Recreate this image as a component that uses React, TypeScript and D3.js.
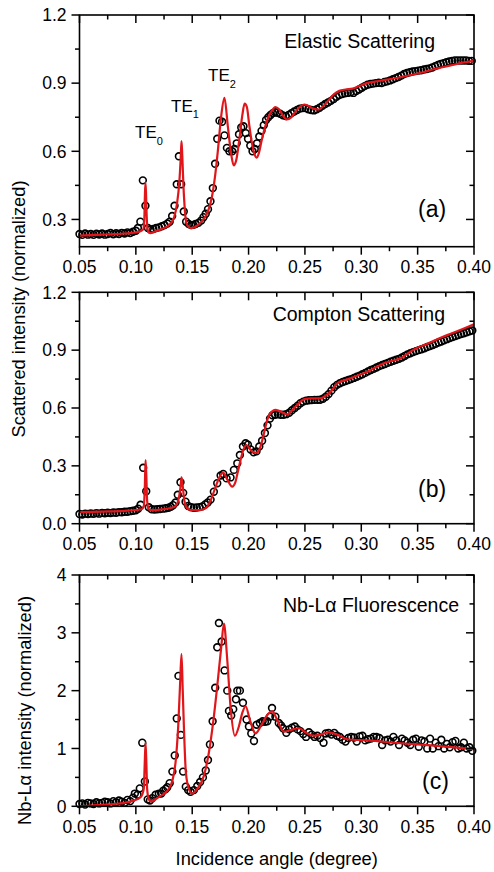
import React from 'react';
import * as d3 from 'd3';

// ---------- data ----------
const X_TICKS = [0.05, 0.10, 0.15, 0.20, 0.25, 0.30, 0.35, 0.40];
const X_MINOR = [0.075, 0.125, 0.175, 0.225, 0.275, 0.325, 0.375];

const A_Y_TICKS = [0.3, 0.6, 0.9, 1.2];
const A_Y_MINOR = [0.45, 0.75, 1.05];
const B_Y_TICKS = [0.0, 0.3, 0.6, 0.9, 1.2];
const B_Y_MINOR = [0.15, 0.45, 0.75, 1.05];
const C_Y_TICKS = [0, 1, 2, 3, 4];
const C_Y_MINOR = [0.5, 1.5, 2.5, 3.5];

// (a) Elastic scattering: measured points
const A_PTS: number[][] = [
  [0.05,.236],[0.0525,.232],[0.055,.238],[0.0575,.233],[0.06,.236],[0.0625,.232],[0.065,.237],[0.0675,.234],
  [0.07,.238],[0.0725,.233],[0.075,.236],[0.0775,.24],[0.08,.235],[0.0825,.239],[0.085,.236],[0.0875,.241],
  [0.09,.238],[0.0925,.243],[0.095,.24],[0.0975,.246],[0.1,.25],[0.1018,.262],[0.104,.29],[0.1062,.472],
  [0.1085,.36],[0.1107,.262],[0.113,.256],[0.1155,.258],[0.118,.262],[0.1205,.265],[0.123,.27],[0.1255,.275],
  [0.128,.282],[0.13,.29],[0.1322,.315],[0.1343,.36],[0.1363,.455],[0.1382,.578],[0.1402,.455],[0.1425,.335],
  [0.1446,.29],[0.1469,.28],[0.149,.275],[0.151,.276],[0.153,.28],[0.1555,.285],[0.158,.295],[0.16,.31],
  [0.162,.325],[0.164,.345],[0.1662,.38],[0.1683,.438],[0.1703,.545],[0.1722,.655],[0.1742,.735],[0.1765,.73],
  [0.1786,.67],[0.1808,.615],[0.183,.6],[0.1855,.6],[0.1875,.61],[0.1895,.635],[0.1915,.675],[0.1935,.705],
  [0.1955,.71],[0.1975,.68],[0.1995,.655],[0.2015,.625],[0.2035,.6],[0.2055,.61],[0.2075,.635],[0.2095,.665],
  [0.2115,.69],[0.2135,.715],[0.2155,.738],[0.2175,.75],[0.2195,.76],[0.2215,.768],[0.2235,.772],[0.2255,.77],
  [0.228,.765],[0.2305,.758],[0.233,.755],[0.2355,.76],[0.238,.768],[0.2405,.775],[0.243,.782],[0.2455,.788],
  [0.248,.79],[0.2505,.79],[0.253,.785],[0.2555,.782],[0.258,.78],[0.2605,.785],[0.263,.792],[0.2655,.8],
  [0.268,.808],[0.2705,.815],[0.273,.822],[0.2755,.83],[0.278,.84],[0.2805,.848],[0.283,.852],[0.2855,.855],
  [0.288,.857],[0.2905,.86],[0.293,.857],[0.2955,.865],[0.298,.872],[0.3005,.88],[0.303,.887],[0.3055,.893],
  [0.308,.896],[0.3105,.898],[0.313,.9],[0.3155,.902],[0.318,.9],[0.3205,.905],[0.323,.908],[0.3255,.912],
  [0.328,.917],[0.3305,.922],[0.333,.927],[0.3355,.933],[0.338,.94],[0.3405,.945],[0.343,.948],[0.3455,.951],
  [0.348,.953],[0.3505,.955],[0.353,.957],[0.3555,.96],[0.358,.962],[0.3605,.965],[0.363,.969],[0.3655,.975],
  [0.368,.98],[0.3705,.985],[0.373,.988],[0.3755,.992],[0.378,.995],[0.3805,.998],[0.383,1.0],[0.3855,1.0],
  [0.388,1.0],[0.3905,1.0],[0.393,1.0],[0.3955,.998],[0.398,.998],
];
// (a) simulated curve
const A_FIT: number[][] = [
  [0.05,.229],[0.06,.231],[0.07,.233],[0.08,.235],[0.09,.238],[0.1,.243],[0.104,.248],[0.1065,.256],
  [0.1075,.3],[0.108,.4],[0.1085,.462],[0.109,.42],[0.1095,.33],[0.1103,.26],[0.1115,.243],[0.113,.24],
  [0.116,.245],[0.12,.252],[0.125,.262],[0.13,.278],[0.134,.31],[0.1365,.37],[0.1385,.46],[0.1398,.57],
  [0.1405,.645],[0.1412,.58],[0.1422,.45],[0.1435,.34],[0.145,.28],[0.147,.266],[0.149,.262],[0.152,.265],
  [0.156,.28],[0.16,.3],[0.164,.335],[0.1675,.4],[0.1705,.5],[0.1727,.6],[0.1756,.75],[0.1786,.835],
  [0.1816,.71],[0.1845,.59],[0.1868,.538],[0.189,.56],[0.192,.66],[0.1945,.76],[0.1965,.81],[0.1985,.795],
  [0.2005,.72],[0.2025,.65],[0.2048,.595],[0.207,.572],[0.209,.59],[0.2115,.645],[0.2145,.705],[0.2175,.75],
  [0.2205,.778],[0.2238,.795],[0.227,.785],[0.2305,.757],[0.234,.74],[0.238,.75],[0.2425,.78],[0.2465,.8],
  [0.2495,.806],[0.253,.8],[0.2575,.788],[0.2622,.784],[0.2665,.8],[0.271,.825],[0.2755,.85],[0.2806,.866],
  [0.286,.872],[0.2924,.876],[0.298,.887],[0.3042,.899],[0.312,.907],[0.32,.913],[0.3338,.925],[0.345,.937],
  [0.355,.948],[0.3633,.96],[0.372,.97],[0.381,.98],[0.39,.99],[0.4,.998],
];

// (b) Compton scattering: measured points
const B_PTS: number[][] = [
  [0.05,.05],[0.0525,.048],[0.055,.052],[0.0575,.05],[0.06,.053],[0.0625,.051],[0.065,.055],[0.0675,.052],
  [0.07,.056],[0.0725,.054],[0.075,.057],[0.0775,.055],[0.08,.058],[0.0825,.057],[0.085,.06],[0.0875,.059],
  [0.09,.062],[0.0925,.062],[0.095,.065],[0.0975,.067],[0.1,.07],[0.102,.078],[0.1042,.098],[0.1065,.29],
  [0.1092,.168],[0.1115,.085],[0.114,.075],[0.1165,.074],[0.119,.075],[0.1215,.076],[0.124,.078],[0.1265,.08],
  [0.129,.083],[0.131,.088],[0.133,.096],[0.1352,.11],[0.1372,.15],[0.1396,.215],[0.142,.16],[0.1441,.114],
  [0.1465,.092],[0.149,.085],[0.1515,.083],[0.154,.084],[0.1565,.086],[0.159,.09],[0.1615,.1],[0.1638,.11],
  [0.1663,.125],[0.1692,.166],[0.1722,.21],[0.1752,.25],[0.1775,.258],[0.1805,.235],[0.184,.24],[0.187,.279],
  [0.19,.313],[0.1923,.356],[0.195,.4],[0.1974,.417],[0.1994,.41],[0.2018,.385],[0.2045,.37],[0.207,.375],
  [0.2095,.4],[0.212,.43],[0.2145,.47],[0.2168,.51],[0.219,.545],[0.2212,.562],[0.2235,.565],[0.226,.567],
  [0.2285,.565],[0.231,.565],[0.2335,.568],[0.236,.575],[0.2385,.588],[0.241,.6],[0.2435,.612],[0.246,.625],
  [0.2485,.633],[0.251,.638],[0.2535,.64],[0.256,.641],[0.2585,.642],[0.261,.642],[0.2635,.643],[0.266,.648],
  [0.2685,.658],[0.271,.672],[0.2735,.69],[0.276,.708],[0.2785,.72],[0.281,.728],[0.2835,.735],[0.286,.74],
  [0.2885,.745],[0.291,.75],[0.2935,.756],[0.296,.762],[0.2985,.768],[0.301,.775],[0.3035,.782],[0.306,.79],
  [0.3085,.797],[0.311,.803],[0.3135,.81],[0.316,.817],[0.3185,.823],[0.321,.828],[0.3235,.834],[0.326,.84],
  [0.3285,.845],[0.331,.85],[0.3335,.855],[0.336,.862],[0.3385,.87],[0.341,.878],[0.3435,.884],[0.346,.89],
  [0.3485,.895],[0.351,.9],[0.3535,.905],[0.356,.91],[0.3585,.916],[0.361,.921],[0.3635,.927],[0.366,.933],
  [0.3685,.94],[0.371,.945],[0.3735,.951],[0.376,.957],[0.3785,.963],[0.381,.968],[0.3835,.973],[0.386,.978],
  [0.3885,.984],[0.391,.988],[0.3935,.993],[0.396,.998],[0.3985,1.002],
];
// (b) simulated curve
const B_FIT: number[][] = [
  [0.05,.06],[0.07,.063],[0.09,.067],[0.1,.071],[0.105,.075],[0.107,.09],[0.108,.2],[0.1086,.33],
  [0.1093,.25],[0.11,.12],[0.1115,.075],[0.113,.07],[0.12,.072],[0.13,.08],[0.135,.09],[0.138,.13],
  [0.1398,.2],[0.1405,.24],[0.1415,.2],[0.143,.12],[0.1455,.08],[0.1485,.071],[0.155,.07],[0.16,.075],
  [0.1633,.088],[0.167,.13],[0.1707,.19],[0.1745,.245],[0.1775,.265],[0.181,.23],[0.1855,.192],[0.188,.21],
  [0.1905,.27],[0.1929,.33],[0.1955,.385],[0.1982,.408],[0.2008,.39],[0.2033,.373],[0.2071,.368],[0.21,.39],
  [0.2122,.433],[0.2145,.49],[0.2166,.538],[0.219,.57],[0.2215,.585],[0.224,.59],[0.227,.585],[0.2314,.573],
  [0.2344,.566],[0.2375,.58],[0.2403,.599],[0.244,.62],[0.2477,.641],[0.2515,.648],[0.2551,.65],[0.26,.65],
  [0.264,.65],[0.268,.662],[0.2728,.684],[0.2787,.728],[0.284,.742],[0.2906,.754],[0.2975,.77],[0.3054,.788],
  [0.3125,.81],[0.3202,.832],[0.3275,.845],[0.335,.858],[0.342,.886],[0.3497,.912],[0.3575,.93],[0.3645,.949],
  [0.372,.968],[0.3793,.985],[0.39,1.01],[0.4,1.034],
];

// (c) Nb-La fluorescence: measured points
const C_PTS: number[][] = [
  [0.05,.04],[0.0525,.05],[0.055,.03],[0.0575,.06],[0.06,.05],[0.0625,.04],[0.065,.07],[0.0675,.05],
  [0.07,.06],[0.0725,.08],[0.075,.07],[0.0775,.05],[0.08,.09],[0.0825,.07],[0.085,.1],[0.0875,.08],
  [0.09,.06],[0.0925,.11],[0.095,.09],[0.0975,.15],[0.0991,.22],[0.1015,.2],[0.1035,.31],[0.1057,1.1],
  [0.108,.43],[0.1105,.12],[0.1125,.1],[0.1145,.14],[0.1175,.2],[0.1204,.22],[0.1225,.22],[0.1243,.27],
  [0.1265,.3],[0.1279,.33],[0.13,.4],[0.1324,.6],[0.1345,.88],[0.1363,1.52],[0.1378,2.255],[0.1399,1.235],
  [0.1419,.6],[0.1443,.34],[0.1464,.28],[0.1485,.25],[0.1515,.28],[0.1545,.35],[0.157,.42],[0.1595,.5],
  [0.162,.62],[0.164,.8],[0.1657,1.07],[0.1681,1.47],[0.1704,2.05],[0.1722,2.75],[0.1737,3.17],[0.1761,2.85],
  [0.1787,2.35],[0.1811,2.0],[0.1826,1.65],[0.1846,1.57],[0.1864,1.68],[0.1888,1.85],[0.19,2.0],[0.1923,2.0],
  [0.195,1.79],[0.1982,1.5],[0.2003,1.38],[0.2024,1.26],[0.2048,1.13],[0.2071,1.41],[0.21,1.44],[0.2125,1.47],
  [0.2145,1.46],[0.2166,1.47],[0.219,1.55],[0.2208,1.7],[0.2238,1.55],[0.2268,1.44],[0.2288,1.4],[0.2306,1.35],
  [0.2335,1.27],[0.236,1.33],[0.2385,1.36],[0.241,1.38],[0.2435,1.33],[0.246,1.3],[0.2485,1.25],[0.251,1.2],
  [0.2535,1.28],[0.256,1.24],[0.2585,1.2],[0.261,1.22],[0.2635,1.18],[0.2665,1.1],[0.2685,1.26],[0.271,1.27],
  [0.2735,1.24],[0.276,1.27],[0.2785,1.22],[0.281,1.2],[0.2835,1.15],[0.286,1.12],[0.2885,1.18],[0.291,1.2],
  [0.2935,1.19],[0.296,1.12],[0.2985,1.21],[0.301,1.22],[0.3035,1.14],[0.306,1.16],[0.3085,1.17],[0.311,1.2],
  [0.3135,1.2],[0.316,1.18],[0.3185,1.06],[0.321,1.14],[0.3235,1.15],[0.326,1.12],[0.3285,1.2],[0.331,1.14],
  [0.3335,1.06],[0.336,1.17],[0.3385,1.14],[0.341,1.1],[0.3435,1.06],[0.346,1.15],[0.3485,1.17],[0.351,1.03],
  [0.3535,1.14],[0.356,1.12],[0.3585,1.0],[0.361,1.17],[0.3635,1.0],[0.366,1.1],[0.3685,1.04],[0.371,1.15],
  [0.3735,1.0],[0.376,1.08],[0.3785,1.02],[0.381,1.11],[0.3835,1.13],[0.386,1.0],[0.3885,1.02],[0.391,1.1],
  [0.3935,1.0],[0.396,1.02],[0.3985,.96],
];
// (c) simulated curve
const C_FIT: number[][] = [
  [0.05,0],[0.06,.01],[0.07,.025],[0.08,.04],[0.09,.06],[0.098,.098],[0.1042,.156],[0.107,.3],
  [0.1078,.7],[0.1086,1.1],[0.1094,.7],[0.11,.3],[0.1115,.12],[0.1136,.08],[0.118,.13],[0.1219,.18],
  [0.1278,.265],[0.1323,.438],[0.1352,.755],[0.1376,1.39],[0.1392,2.1],[0.1405,2.63],[0.1416,2.0],[0.1426,1.39],
  [0.1444,.58],[0.1471,.3],[0.15,.22],[0.1545,.3],[0.1604,.53],[0.1648,.93],[0.1692,1.55],[0.1728,2.19],
  [0.1758,2.76],[0.1781,3.16],[0.1811,2.53],[0.184,1.72],[0.1879,1.22],[0.1914,1.38],[0.1945,1.62],[0.1974,1.73],
  [0.2012,1.49],[0.2062,1.26],[0.2107,1.38],[0.2166,1.58],[0.221,1.64],[0.2255,1.49],[0.2314,1.29],[0.2373,1.32],
  [0.2447,1.35],[0.2521,1.26],[0.258,1.22],[0.2639,1.24],[0.2713,1.28],[0.2787,1.24],[0.2876,1.16],[0.3054,1.14],
  [0.335,1.09],[0.3645,1.05],[0.4,.99],
];

// ---------- layout ----------
const W = 494;
const H = 872;
const L = 79.5;
const R = 474;
const FONT = "Arial, 'Liberation Sans', Helvetica, sans-serif";
const RED = '#e0161b';

const xScale = d3.scaleLinear().domain([0.05, 0.4]).range([L, R]);

type PanelProps = {
  top: number;
  bottom: number;
  domain: [number, number];
  major: number[];
  minor: number[];
  fmt: (v: number) => string;
  pts: number[][];
  fit: number[][];
};

function Panel({ top, bottom, domain, major, minor, fmt, pts, fit }: PanelProps) {
  const y = d3.scaleLinear().domain(domain).range([bottom, top]);
  const line = d3
    .line<number[]>()
    .x((d) => xScale(d[0]))
    .y((d) => y(d[1]))
    .curve(d3.curveMonotoneX);
  const fx = d3.format('.2f');
  const MJ = 8;
  const MN = 4.5;
  return (
    <g>
      {pts.map(([a, b], i) => (
        <circle key={i} cx={xScale(a)} cy={y(b)} r={3.4} fill="none" stroke="#000" strokeWidth={1.6} />
      ))}
      <path d={line(fit) || ''} fill="none" stroke={RED} strokeWidth={2.2} strokeLinejoin="round" />
      <rect x={L} y={top} width={R - L} height={bottom - top} fill="none" stroke="#000" strokeWidth={1.6} />
      {X_TICKS.map((t) => (
        <g key={'xt' + t}>
          <line x1={xScale(t)} x2={xScale(t)} y1={bottom} y2={bottom + MJ} stroke="#000" strokeWidth={1.5} />
          <line x1={xScale(t)} x2={xScale(t)} y1={top} y2={top + MJ} stroke="#000" strokeWidth={1.5} />
          <text x={xScale(t)} y={bottom + 26.5} textAnchor="middle" fontSize={17.5} fontFamily={FONT} fill="#000">
            {fx(t)}
          </text>
        </g>
      ))}
      {X_MINOR.map((t) => (
        <g key={'xm' + t}>
          <line x1={xScale(t)} x2={xScale(t)} y1={bottom} y2={bottom + MN} stroke="#000" strokeWidth={1.5} />
          <line x1={xScale(t)} x2={xScale(t)} y1={top} y2={top + MN} stroke="#000" strokeWidth={1.5} />
        </g>
      ))}
      {major.map((t) => (
        <g key={'yt' + t}>
          <line x1={L - MJ} x2={L} y1={y(t)} y2={y(t)} stroke="#000" strokeWidth={1.5} />
          <line x1={R - MJ} x2={R} y1={y(t)} y2={y(t)} stroke="#000" strokeWidth={1.5} />
          <text x={L - 13} y={y(t)} dy="0.36em" textAnchor="end" fontSize={17.5} fontFamily={FONT} fill="#000">
            {fmt(t)}
          </text>
        </g>
      ))}
      {minor.map((t) => (
        <g key={'ym' + t}>
          <line x1={L - MN} x2={L} y1={y(t)} y2={y(t)} stroke="#000" strokeWidth={1.5} />
          <line x1={R - MN} x2={R} y1={y(t)} y2={y(t)} stroke="#000" strokeWidth={1.5} />
        </g>
      ))}
    </g>
  );
}

export default function App() {
  const f1 = d3.format('.1f');
  const f0 = d3.format('d');
  const txt = { fontFamily: FONT, fill: '#000' } as const;
  return (
    <svg width={W} height={H} style={{ position: 'absolute', left: 0, top: 0, background: '#fff' }}>
      <rect width={W} height={H} fill="#fff" />
      <Panel top={15} bottom={246.7} domain={[0.18, 1.2]} major={A_Y_TICKS} minor={A_Y_MINOR} fmt={f1} pts={A_PTS} fit={A_FIT} />
      <Panel top={292.3} bottom={523.7} domain={[0, 1.2]} major={B_Y_TICKS} minor={B_Y_MINOR} fmt={f1} pts={B_PTS} fit={B_FIT} />
      <Panel top={575} bottom={806.3} domain={[0, 4]} major={C_Y_TICKS} minor={C_Y_MINOR} fmt={f0} pts={C_PTS} fit={C_FIT} />

      <text x={435} y={48} textAnchor="end" fontSize={19.5} {...txt}>Elastic Scattering</text>
      <text x={445} y={320.5} textAnchor="end" fontSize={19.5} {...txt}>Compton Scattering</text>
      <text x={459} y={612} textAnchor="end" fontSize={19.5} {...txt}>Nb-Lα Fluorescence</text>

      <text x={418} y={217} fontSize={23} {...txt}>(a)</text>
      <text x={418} y={497} fontSize={23} {...txt}>(b)</text>
      <text x={422} y={789} fontSize={23} {...txt}>(c)</text>

      <text x={135} y={138} fontSize={17} {...txt}>TE<tspan fontSize={11} dy={7}>0</tspan></text>
      <text x={171} y={111.7} fontSize={17} {...txt}>TE<tspan fontSize={11} dy={6.5}>1</tspan></text>
      <text x={208} y={81} fontSize={17} {...txt}>TE<tspan fontSize={11} dy={6.5}>2</tspan></text>

      <text transform="translate(24.5,309) rotate(-90)" textAnchor="middle" fontSize={18.3} {...txt}>
        Scattered intensity (normalized)
      </text>
      <text transform="translate(31,710.5) rotate(-90)" textAnchor="middle" fontSize={18.3} {...txt}>
        Nb-Lα intensity (normalized)
      </text>
      <text x={276.7} y={865} textAnchor="middle" fontSize={18.3} {...txt}>
        Incidence angle (degree)
      </text>
    </svg>
  );
}
